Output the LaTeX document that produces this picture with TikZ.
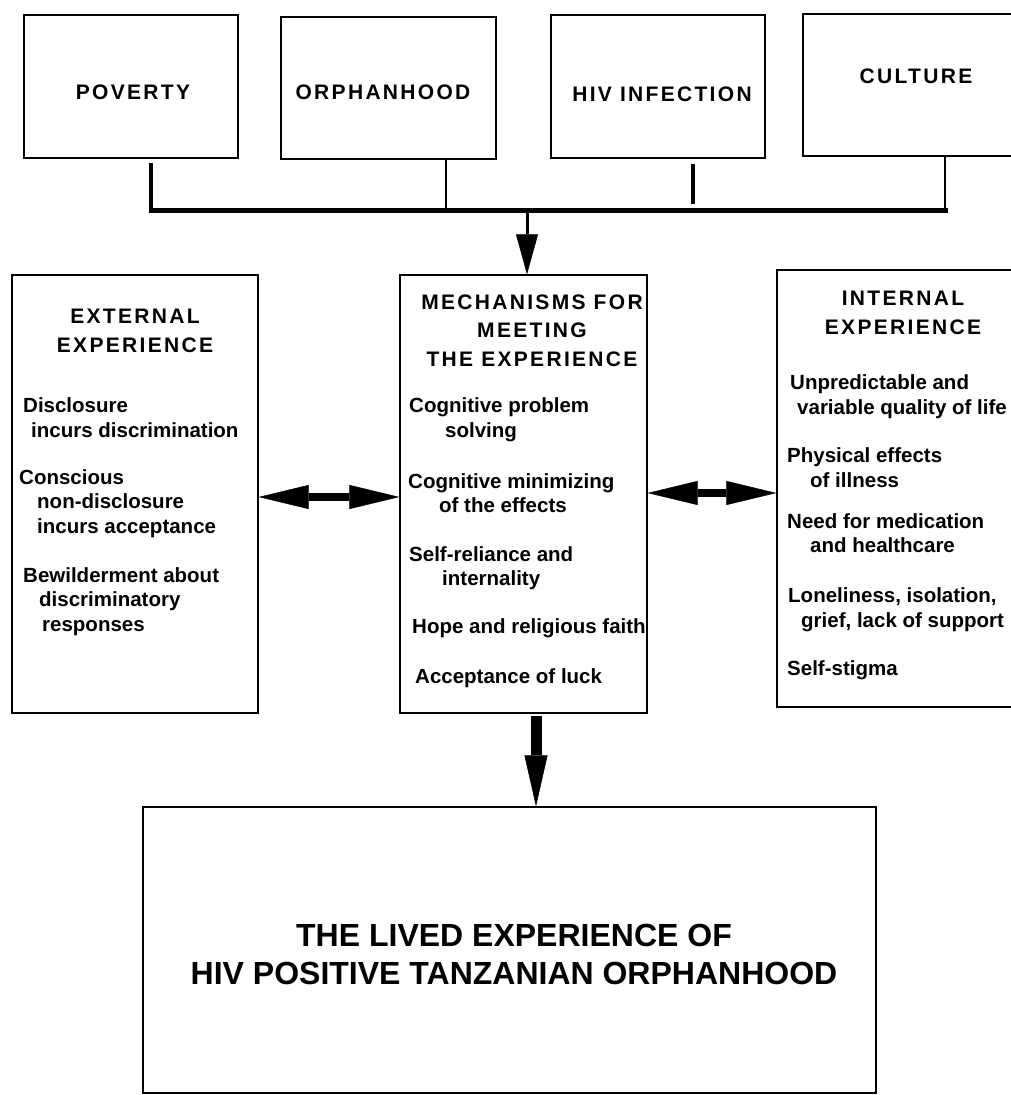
\documentclass[tikz,border=0pt]{standalone}
\usepackage{fontspec}
\setmainfont{Liberation Sans}
\newfontfamily\headfont[LetterSpace=11]{Liberation Sans}
\usetikzlibrary{arrows.meta}

\tikzset{
  cell/.style={draw, line width=1.3pt, inner sep=0pt},
  headtxt/.style={font=\headfont\bfseries\fontsize{21}{28.5}\selectfont, align=center, anchor=base, inner sep=0pt},
  itemtxt/.style={font=\bfseries\fontsize{20.5}{24.5}\selectfont, align=left, anchor=base west, inner sep=0pt},
  bigtxt/.style={font=\bfseries\fontsize{32}{37.5}\selectfont, align=center, anchor=base, inner sep=0pt},
}

\begin{document}
\begin{tikzpicture}[x=1pt, y=-1pt]
\useasboundingbox (0,0) rectangle (1010,1095);

% the four causes
\node[cell, minimum width=214pt, minimum height=143pt] (pov) at (131,86.5) {};
\node[cell, minimum width=215pt, minimum height=142pt] (orph) at (388.5,88) {};
\node[cell, minimum width=214pt, minimum height=143pt] (hiv) at (658,86.5) {};
\node[cell, minimum width=214pt, minimum height=142pt] (cult) at (910,85) {};

\node[headtxt] (povT) at (133,99) {POVERTY};
\node[headtxt] (orphT) at (383,99) {ORPHANHOOD};
\node[headtxt] (hivT) at (662,101.5) {HIV INFECTION};
\node[headtxt] (cultT) at (916,83) {CULTURE};

% bus bar
\coordinate (busL) at (151,210);
\coordinate (busR) at (945,210);
\draw[line width=5pt, line cap=rect] (busL) -- (busR);
\draw[line width=3.5pt] ([xshift=20pt,yshift=-4pt]pov.south) -- ([xshift=20pt]pov.south |- busL);
\draw[line width=2pt] ([xshift=57.5pt]orph.south) -- ([xshift=57.5pt]orph.south |- busL);
\draw[line width=3.5pt] ([xshift=35pt,yshift=-5pt]hiv.south) -- ([xshift=35pt,yshift=6pt]hiv.south |- busL);
\draw[line width=2pt] ([xshift=35pt]cult.south) -- ([xshift=35pt]cult.south |- busL);

% the three middle boxes
\node[cell, minimum width=246pt, minimum height=438pt] (ext) at (135,494) {};
\node[cell, minimum width=247pt, minimum height=438pt] (mid) at (523.5,494) {};
\node[cell, minimum width=246pt, minimum height=437pt] (int) at (900,488.5) {};

\draw[line width=3pt, -{Triangle[length=40pt,width=22pt,line width=0.5pt]}] ([xshift=3.5pt]mid.north |- busL) -- ([xshift=3.5pt]mid.north);

\node[headtxt] (extT) at (135,352) {EXTERNAL\\EXPERIENCE};
\node[itemtxt] (ext1) at (23,437) {Disclosure\\\hspace*{8pt}incurs discrimination};
\node[itemtxt] (ext2) at (19,533) {Conscious\\\hspace*{18pt}non-disclosure\\\hspace*{18pt}incurs acceptance};
\node[itemtxt] (ext3) at (23,631) {Bewilderment about\\\hspace*{16pt}discriminatory\\\hspace*{19pt}responses};

\node[headtxt] (midT) at (532,366) {MECHANISMS FOR\\MEETING\\THE EXPERIENCE};
\node[itemtxt] (mid1) at (409,437) {Cognitive problem\\\hspace*{36pt}solving};
\node[itemtxt] (mid2) at (408,512.5) {Cognitive minimizing\\\hspace*{31pt}of the effects};
\node[itemtxt] (mid3) at (409,585.5) {Self-reliance and\\\hspace*{33pt}internality};
\node[itemtxt] (mid4) at (412,633) {Hope and religious faith};
\node[itemtxt] (mid5) at (415,683) {Acceptance of luck};

\node[headtxt] (intT) at (903,334) {INTERNAL\\EXPERIENCE};
\node[itemtxt] (int1) at (790,414) {Unpredictable and\\\hspace*{7pt}variable quality of life};
\node[itemtxt] (int2) at (787,487) {Physical effects\\\hspace*{23pt}of illness};
\node[itemtxt] (int3) at (787,552.5) {Need for medication\\\hspace*{23pt}and healthcare};
\node[itemtxt] (int4) at (788,627) {Loneliness, isolation,\\\hspace*{13pt}grief, lack of support};
\node[itemtxt] (int5) at (787,675) {Self-stigma};

\draw[line width=8pt, {Triangle[length=50pt,width=24pt,line width=0.5pt]}-{Triangle[length=50pt,width=24pt,line width=0.5pt]}] ([yshift=-3pt]ext.east) -- ([yshift=-3pt]ext.east -| mid.west);
\draw[line width=8pt, {Triangle[length=50pt,width=24pt,line width=0.5pt]}-{Triangle[length=50pt,width=24pt,line width=0.5pt]}] ([yshift=1pt]mid.east) -- ([yshift=1pt]mid.east -| int.west);

% outcome
\node[cell, minimum width=733pt, minimum height=286pt] (life) at (509.5,950) {};
\draw[line width=11pt, -{Triangle[length=51pt,width=23pt,line width=0.5pt]}] ([xshift=12.5pt,yshift=-2pt]mid.south) -- ([xshift=12.5pt]mid.south |- life.north);
\node[bigtxt] (lifeT) at (514,984) {THE LIVED EXPERIENCE OF\\HIV POSITIVE TANZANIAN ORPHANHOOD};

\end{tikzpicture}
\end{document}
